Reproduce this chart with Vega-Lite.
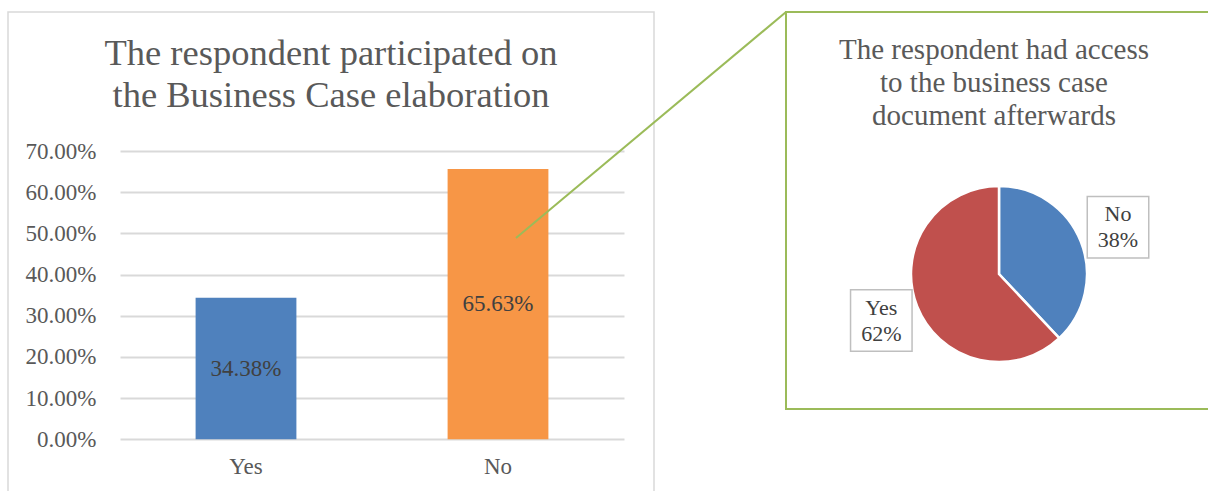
{
  "$schema": "https://vega.github.io/schema/vega-lite/v6.json",
  "background": "white",
  "padding": {"left": 7, "top": 10, "right": 0, "bottom": 0},
  "bounds": "flush",
  "spacing": 132,
  "resolve": {"scale": {"color": "independent"}},
  "config": {
    "font": "Liberation Serif",
    "title": {"font": "Liberation Serif", "fontWeight": "normal", "color": "#595959", "anchor": "middle", "frame": "group", "baseline": "alphabetic"},
    "axis": {"labelFont": "Liberation Serif", "labelFontSize": 23, "labelColor": "#595959", "ticks": false, "domain": false, "title": null}
  },
  "hconcat": [
    {
      "width": 646,
      "height": 500,
      "view": {"stroke": "#D9D9D9", "strokeWidth": 1.5},
      "title": {
        "text": ["The respondent participated on", "the Business Case elaboration"],
        "fontSize": 36.5,
        "lineHeight": 42,
        "offset": -104
      },
      "data": {"values": [
        {"answer": "Yes", "share": 0.3438},
        {"answer": "No", "share": 0.6563}
      ]},
      "resolve": {"scale": {"y": "independent"}},
      "layer": [
        {
          "mark": {"type": "bar"},
          "encoding": {
            "x": {
              "field": "answer", "type": "nominal", "sort": ["Yes", "No"],
              "scale": {"range": [112, 616], "paddingInner": 0.6, "paddingOuter": 0.3},
              "axis": {"orient": "bottom", "offset": -72.7, "labelPadding": 16, "labelAngle": 0, "grid": false}
            },
            "y": {
              "field": "share", "type": "quantitative",
              "scale": {"domain": [0, 0.7], "range": [427.3, 139], "nice": false, "zero": true},
              "axis": {
                "values": [0, 0.1, 0.2, 0.3, 0.4, 0.5, 0.6, 0.7],
                "format": ".2%",
                "offset": -112,
                "labelPadding": 24,
                "grid": true,
                "gridColor": "#D9D9D9",
                "gridWidth": 2
              }
            },
            "color": {
              "field": "answer", "type": "nominal",
              "scale": {"domain": ["Yes", "No"], "range": ["#4F81BD", "#F79646"]},
              "legend": null
            }
          }
        },
        {
          "mark": {"type": "text", "fontSize": 23, "color": "#404040", "baseline": "middle"},
          "encoding": {
            "x": {"field": "answer", "type": "nominal", "sort": ["Yes", "No"]},
            "y": {
              "field": "share", "type": "quantitative",
              "scale": {"domain": [0, 1.4], "range": [427.3, 139], "nice": false, "zero": true},
              "axis": null
            },
            "text": {"field": "share", "type": "quantitative", "format": ".2%"}
          }
        },
        {
          "data": {"values": [{}]},
          "mark": {"type": "rule", "color": "#9BBB59", "strokeWidth": 2, "xOffset": 18, "x2Offset": 288},
          "encoding": {
            "x": {"datum": "No"},
            "x2": {"datum": "No"},
            "y": {
              "datum": 0.489,
              "scale": {"domain": [0, 0.7], "range": [427.3, 139], "nice": false, "zero": true},
              "axis": null
            },
            "y2": {"datum": 1.0375}
          }
        }
      ]
    },
    {
      "width": 426,
      "height": 397,
      "view": {"stroke": "#9BBB59", "strokeWidth": 2},
      "title": {
        "text": ["The respondent had access", "to the business case", "document afterwards"],
        "fontSize": 29,
        "lineHeight": 33,
        "offset": -119,
        "dx": -5
      },
      "data": {"values": [
        {"answer": "No", "share": 0.38},
        {"answer": "Yes", "share": 0.62}
      ]},
      "layer": [
        {
          "mark": {"type": "arc", "outerRadius": 88, "stroke": "white", "strokeWidth": 2.5, "yOffset": 63.5},
          "encoding": {
            "theta": {"field": "share", "type": "quantitative", "stack": true},
            "order": {"field": "share", "type": "quantitative", "sort": "ascending"},
            "color": {
              "field": "answer", "type": "nominal",
              "scale": {"domain": ["No", "Yes"], "range": ["#4F81BD", "#C0504D"]},
              "legend": null
            }
          }
        },
        {
          "mark": {"type": "point", "shape": "square", "size": 3782, "filled": true, "fill": "white", "stroke": "#BFBFBF", "strokeWidth": 1.5, "opacity": 1},
          "encoding": {
            "x": {"field": "answer", "type": "nominal", "scale": {"type": "point", "domain": ["Yes", "No"], "range": [95.3, 332], "padding": 0}, "axis": null},
            "y": {"field": "answer", "type": "nominal", "scale": {"type": "point", "domain": ["No", "Yes"], "range": [215.3, 308.5], "padding": 0}, "axis": null}
          }
        },
        {
          "mark": {"type": "text", "fontSize": 22, "color": "#404040", "baseline": "middle", "dy": -13},
          "encoding": {
            "x": {"field": "answer", "type": "nominal"},
            "y": {"field": "answer", "type": "nominal"},
            "text": {"field": "answer", "type": "nominal"}
          }
        },
        {
          "mark": {"type": "text", "fontSize": 22, "color": "#404040", "baseline": "middle", "dy": 13},
          "encoding": {
            "x": {"field": "answer", "type": "nominal"},
            "y": {"field": "answer", "type": "nominal"},
            "text": {"field": "share", "type": "quantitative", "format": ".0%"}
          }
        }
      ]
    }
  ]
}
